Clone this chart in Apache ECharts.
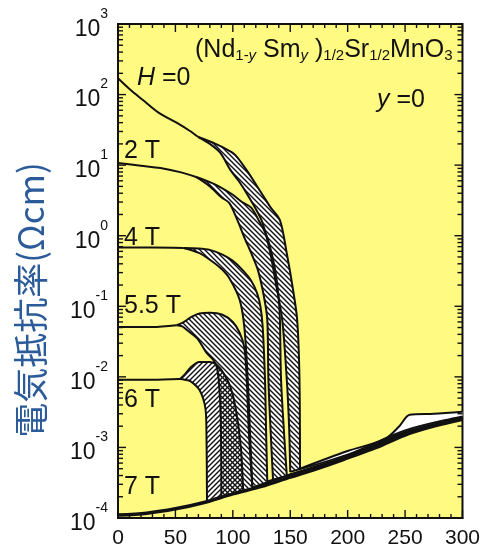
<!DOCTYPE html>
<html>
<head>
<meta charset="utf-8">
<script src="https://cdn.jsdelivr.net/npm/echarts@6/dist/echarts.min.js"></script>
<style>
html, body { margin: 0; background: #fff; }
#main { width: 483px; height: 550px; }
</style>
</head>
<body>
<div id="main"></div>
<script>
// [T (K), rho (Ωcm)]
var h0Common = [[0, 170], [10, 120], [22, 83], [35, 56], [51, 40], [62, 31], [70, 25]];
var h0Cool = [[80, 20], [89, 15], [98, 8.5], [105, 6.0], [112, 4.0], [125, 1.66], [132, 0.63], [138, 0.19], [143, 0.065], [147, 0.0091], [149, 0.002], [150, 0.00045]];
var h0Warm = [[85, 20], [95, 16.6], [102, 14], [112, 8.5], [125, 4.0], [133, 2.5], [141, 1.66], [147, 0.56], [152, 0.19], [156, 0.065], [158, 0.01], [158.5, 0.0005]];

var t2Common = [[0, 10.7], [20, 9.8], [37, 9.1], [55, 7.9], [68, 6.8]];
var t2Cool = [[80, 5.0], [90, 3.5], [97, 2.9], [104, 1.66], [110, 0.95], [117, 0.52], [122, 0.32], [127, 0.14], [130, 0.065], [131, 0.0091], [133, 0.0016], [135, 0.00035]];
var t2Warm = [[80, 5.75], [89, 4.9], [100, 3.8], [108, 3.0], [116, 2.5], [123, 1.6], [130, 0.95], [137, 0.32], [140, 0.126], [141, 0.065], [142, 0.0091], [145, 0.00126], [147, 0.0004]];

var t4Common = [[0, 0.68], [30, 0.68], [57, 0.67]];
var t4Cool = [[70, 0.575], [80, 0.457], [90, 0.34], [97, 0.25], [106, 0.123], [110, 0.051], [113, 0.0091], [115, 0.0016], [117, 0.00028]];
var t4Warm = [[70, 0.66], [80, 0.63], [91, 0.54], [100, 0.44], [109, 0.32], [116, 0.23], [121, 0.155], [124, 0.1], [126, 0.051], [128, 0.0091], [129, 0.0016], [130, 0.00033]];

var t55Common = [[0, 0.051], [30, 0.051], [51, 0.054]];
var t55Cool = [[56, 0.052], [60, 0.046], [69, 0.035], [77, 0.022], [83, 0.0174], [86, 0.0138], [88, 0.0079], [89.5, 0.0025], [90, 0.0002]];
var t55Warm = [[56, 0.058], [60, 0.064], [64, 0.071], [71, 0.079], [80, 0.081], [91, 0.076], [100, 0.06], [106, 0.042], [110, 0.026], [112, 0.01], [114, 0.0016], [117, 0.00027]];

var t6Common = [[0, 0.0091], [30, 0.0091], [54, 0.0093]];
var t6Cool = [[58, 0.0091], [63, 0.0087], [71, 0.0065], [76, 0.0037], [77, 0.0018], [77.5, 0.00018]];
var t6Warm = [[58, 0.0107], [63, 0.0135], [71, 0.0162], [80, 0.0162], [86, 0.0148], [92, 0.0112], [98, 0.0071], [103, 0.0032], [107, 0.001], [109, 0.00024]];

var t7 = [[0, 1.1e-4], [25, 1.17e-4], [50, 1.35e-4], [75, 1.66e-4], [100, 2.2e-4], [125, 2.8e-4], [150, 3.8e-4], [175, 5.1e-4], [200, 7.1e-4], [225, 1e-3], [250, 1.5e-3], [275, 2.0e-3], [300, 2.5e-3]];

// high temperature part, all curves run together
var h0WarmHigh = [[158.5, 0.0005], [200, 8.9e-4], [232, 1.3e-3], [245, 2.0e-3], [254, 2.9e-3], [275, 3.0e-3], [300, 3.2e-3]];
var h0CoolHigh = [[150, 0.00045], [200, 7.9e-4], [250, 1.74e-3], [300, 2.75e-3]];
var t2High = [[147, 0.0004], [200, 7.6e-4], [250, 1.64e-3], [300, 2.65e-3]];
var t4High = [[130, 0.00033], [200, 7.4e-4], [250, 1.58e-3], [300, 2.58e-3]];
var t55High = [[117, 0.00027], [150, 4.1e-4], [200, 7.3e-4], [250, 1.54e-3]];

var xTicks = [0, 300, 50];
var yRange = [1e-4, 1e3];
var xMajor = [0, 50, 100, 150, 200, 250, 300];
var yMajor = [1e-4, 1e-3, 1e-2, 1e-1, 1, 10, 100, 1000];

// minor tick values: every 10 K, and 2..9 within each decade
var xMinor = [];
for (var t = 10; t < 300; t += 10) {
	if (t % 50) xMinor.push(t);
}
var yMinor = [];
yMajor.slice(0, -1).forEach(function(m) {
	for (var k = 2; k <= 9; k++) yMinor.push(k * m);
});

function makeHatch(up) {
	var s = 5;
	var c = document.createElement('canvas');
	c.width = s;
	c.height = s;
	var g = c.getContext('2d');
	g.strokeStyle = '#111';
	g.lineWidth = 1.4;
	g.beginPath();
	if (up) {
		g.moveTo(0, s); g.lineTo(s, 0);
		g.moveTo(-1, 1); g.lineTo(1, -1);
		g.moveTo(s - 1, s + 1); g.lineTo(s + 1, s - 1);
	} else {
		g.moveTo(0, 0); g.lineTo(s, s);
		g.moveTo(s - 1, -1); g.lineTo(s + 1, 1);
		g.moveTo(-1, s - 1); g.lineTo(1, s + 1);
	}
	g.stroke();
	return { image: c, repeat: 'repeat' };
}
var hatchDown = makeHatch(false);
var hatchUp = makeHatch(true);

var bands = [
	{ common: h0Common, cool: h0Cool, warm: h0Warm, hatch: hatchDown },
	{ common: t2Common, cool: t2Cool, warm: t2Warm, hatch: hatchDown },
	{ common: t4Common, cool: t4Cool, warm: t4Warm, hatch: hatchDown },
	{ common: t55Common, cool: t55Cool, warm: t55Warm, hatch: hatchDown },
	{ common: t6Common, cool: t6Cool, warm: t6Warm, hatch: hatchUp }
];
var highBand = { common: [h0CoolHigh[0]], cool: h0CoolHigh.slice(1), warm: h0WarmHigh };

function lastOf(arr) { return arr[arr.length - 1]; }

function polySeries(list, fillFn) {
	return {
		type: 'custom',
		coordinateSystem: 'cartesian2d',
		silent: true,
		data: list.map(function(b, i) { return [i, 1]; }),
		renderItem: function(params, api) {
			var b = list[params.dataIndex];
			var pts = [lastOf(b.common)].concat(b.cool, b.warm.slice().reverse()).map(function(p) {
				return api.coord(p);
			});
			return { type: 'polygon', shape: { points: pts }, style: { fill: fillFn(b), stroke: null } };
		}
	};
}

function lineSeries(data, w) {
	return {
		type: 'line',
		data: data,
		showSymbol: false,
		silent: true,
		smooth: 0.3,
		lineStyle: { color: '#111', width: w || 2 }
	};
}

var series = [];
series.push(polySeries(bands.concat([highBand]), function() { return '#fff'; }));
series.push(polySeries(bands, function(b) { return b.hatch; }));
bands.forEach(function(b) {
	series.push(lineSeries(b.common));
	series.push(lineSeries([lastOf(b.common)].concat(b.cool)));
	series.push(lineSeries([lastOf(b.common)].concat(b.warm)));
});
series.push(lineSeries(h0WarmHigh));
series.push(lineSeries(h0CoolHigh));
series.push(lineSeries(t2High));
series.push(lineSeries(t4High));
series.push(lineSeries(t55High));
series.push(lineSeries(t7, 3.5));

var font = 'Liberation Sans';

var texts = [
	{
		type: 'text', x: 195, y: 38, z: 10,
		style: {
			text: '{n|(Nd}{sb|1-}{si|y}{n| Sm}{si|y}{n| )}{sb|1/2}{n|Sr}{sb|1/2}{n|MnO}{sb|3}',
			rich: {
				n: { fontSize: 25, fontFamily: font, fill: '#111', lineHeight: 25, verticalAlign: 'top' },
				sb: { fontSize: 15, fontFamily: font, fill: '#111', lineHeight: 15, verticalAlign: 'bottom' },
				si: { fontSize: 15, fontFamily: font, fontStyle: 'italic', fill: '#111', lineHeight: 15, verticalAlign: 'bottom' }
			}
		}
	},
	{
		type: 'text', x: 137, y: 66, z: 10,
		style: {
			text: '{i|H} =0',
			fontSize: 25, fontFamily: font, fill: '#111',
			rich: { i: { fontSize: 25, fontFamily: font, fontStyle: 'italic', fill: '#111' } }
		}
	},
	{
		type: 'text', x: 377, y: 88, z: 10,
		style: {
			text: '{i|y} =0',
			fontSize: 25, fontFamily: font, fill: '#111',
			rich: { i: { fontSize: 25, fontFamily: font, fontStyle: 'italic', fill: '#111' } }
		}
	},
	{ type: 'text', x: 124, y: 139, z: 10, style: { text: '2 T', fontSize: 25, fontFamily: font, fill: '#111' } },
	{ type: 'text', x: 124, y: 226, z: 10, style: { text: '4 T', fontSize: 25, fontFamily: font, fill: '#111' } },
	{ type: 'text', x: 124, y: 294, z: 10, style: { text: '5.5 T', fontSize: 25, fontFamily: font, fill: '#111' } },
	{ type: 'text', x: 124, y: 388, z: 10, style: { text: '6 T', fontSize: 25, fontFamily: font, fill: '#111' } },
	{ type: 'text', x: 124, y: 475, z: 10, style: { text: '7 T', fontSize: 25, fontFamily: font, fill: '#111' } },
	{
		type: 'text', x: 31, y: 300, rotation: Math.PI / 2, z: 10,
		style: {
			text: '電気抵抗率(Ωcm)', fontSize: 35, fontFamily: 'Noto Sans CJK JP', fill: '#2b5b99',
			align: 'center', verticalAlign: 'middle'
		}
	}
];

var chart = echarts.init(document.getElementById('main'));
chart.setOption({
	animation: false,
	grid: { left: 118, right: 20, top: 24, bottom: 32, show: true, backgroundColor: '#fffa82', borderColor: '#111', borderWidth: 2 },
	xAxis: {
		type: 'value', min: xTicks[0], max: xTicks[1], interval: xTicks[2],
		axisLine: { show: true, lineStyle: { color: '#111', width: 2 } },
		axisTick: { show: false },
		splitLine: { show: false },
		axisLabel: { color: '#111', fontFamily: font, fontSize: 21, margin: 10 }
	},
	yAxis: {
		type: 'log', min: yRange[0], max: yRange[1],
		axisLine: { show: true, lineStyle: { color: '#111', width: 2 } },
		axisTick: { show: false },
		splitLine: { show: false },
		axisLabel: {
			margin: 10,
			formatter: function(v) {
				var e = Math.round(Math.log(v) / Math.LN10);
				return '{b|10}{s|' + e + '}';
			},
			rich: {
				b: { fontSize: 23, fontFamily: font, color: '#111', lineHeight: 34, verticalAlign: 'bottom' },
				s: { fontSize: 14, fontFamily: font, color: '#111', lineHeight: 20, verticalAlign: 'top' }
			}
		}
	},
	series: series,
	graphic: texts
});

// inside ticks on the four sides, placed through the chart's own scales
var finder = { xAxisIndex: 0, yAxisIndex: 0 };
var topLeft = chart.convertToPixel(finder, [xTicks[0], yRange[1]]);
var botRight = chart.convertToPixel(finder, [xTicks[1], yRange[0]]);
var ticks = [];
function seg(x1, y1, x2, y2) {
	ticks.push({
		type: 'line', z: 20, silent: true,
		shape: { x1: x1, y1: y1, x2: x2, y2: y2 },
		style: { stroke: '#111', lineWidth: 1.4 }
	});
}
function xt(v, len) {
	var x = chart.convertToPixel(finder, [v, 1])[0];
	seg(x, botRight[1], x, botRight[1] - len);
	seg(x, topLeft[1], x, topLeft[1] + len);
}
function yt(v, len) {
	var y = chart.convertToPixel(finder, [0, v])[1];
	seg(topLeft[0], y, topLeft[0] + len, y);
	seg(botRight[0], y, botRight[0] - len, y);
}
xMajor.forEach(function(v) { xt(v, 8); });
xMinor.forEach(function(v) { xt(v, 4); });
yMajor.forEach(function(v) { yt(v, 8); });
yMinor.forEach(function(v) { yt(v, 5); });

chart.setOption({ graphic: texts.concat(ticks) });
</script>
</body>
</html>
